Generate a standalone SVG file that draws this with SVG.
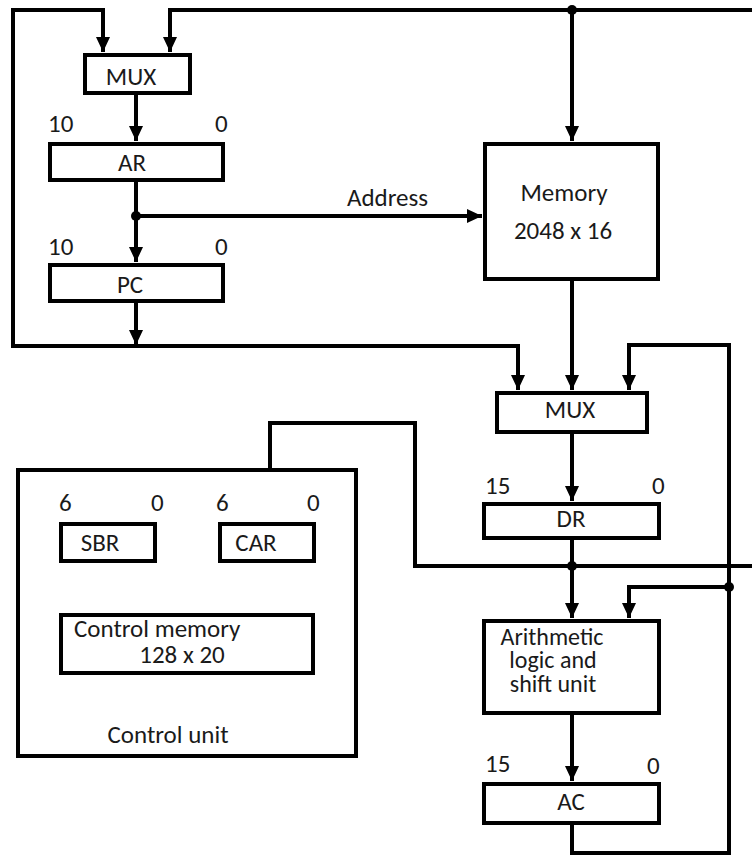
<svg xmlns="http://www.w3.org/2000/svg" width="752" height="856" viewBox="0 0 752 856">
  <style>
    .box { fill: #ffffff; stroke: #000000; stroke-width: 4; }
    .wire { fill: none; stroke: #000000; stroke-width: 4; stroke-linejoin: miter; }
    .arrow { marker-end: url(#head); }
    .dot { fill: #000000; }
    text { font-family: Carlito, Calibri, "Open Sans", "Noto Sans", sans-serif; font-size: 25px; fill: #1a1a1a; }
    .c { text-anchor: middle; }
    .alu { font-size: 24px; }
  </style>
  <defs>
    <marker id="head" markerUnits="userSpaceOnUse" markerWidth="16" markerHeight="16" viewBox="0 0 16 16" refX="15" refY="8" orient="auto">
      <path d="M0,1 L15,8 L0,15 z" fill="#000000"/>
    </marker>
  </defs>

  <rect x="0" y="0" width="752" height="856" fill="#ffffff"/>

  <!-- connectors -->
  <g id="connectors">
    <!-- common bus along the top feeding the address MUX and memory -->
    <path class="wire arrow" d="M752,10 H170 V52"/>
    <path class="wire arrow" d="M572,10 V141"/>
    <!-- PC output loop -->
    <path class="wire arrow" d="M136,303 V345"/>
    <path class="wire arrow" d="M13,346 V10 H103 V52"/>
    <path class="wire arrow" d="M11,346 H518 V390"/>
    <!-- MUX to AR, AR to PC, address to memory -->
    <path class="wire arrow" d="M136,95 V141"/>
    <path class="wire arrow" d="M136,182 V262"/>
    <path class="wire arrow" d="M136,216 H482"/>
    <!-- memory to data MUX, MUX to DR, DR to ALU -->
    <path class="wire arrow" d="M572,281 V390"/>
    <path class="wire arrow" d="M572,434 V501"/>
    <path class="wire arrow" d="M572,540 V618"/>
    <!-- DR bus to CAR -->
    <path class="wire arrow" d="M752,566 H415 V423 H270 V521"/>
    <!-- ALU to AC, AC feedback -->
    <path class="wire arrow" d="M572,715 V781"/>
    <path class="wire arrow" d="M572,825 V853 H729 V345 H629 V390"/>
    <path class="wire arrow" d="M729,587 H629 V618"/>
    <circle class="dot" cx="572" cy="10" r="5"/>
    <circle class="dot" cx="136" cy="216" r="5"/>
    <circle class="dot" cx="572" cy="566" r="5"/>
    <circle class="dot" cx="729" cy="587" r="5"/>
  </g>

  <g id="mux-addr">
    <rect class="box" x="85" y="55" width="105" height="38"/>
    <text class="c" x="131" y="85">MUX</text>
  </g>

  <g id="ar">
    <text x="48" y="132">10</text>
    <text x="215" y="132">0</text>
    <rect class="box" x="50" y="144" width="173" height="36"/>
    <text class="c" x="132" y="171">AR</text>
  </g>

  <g id="pc">
    <text x="48" y="255">10</text>
    <text x="215" y="255">0</text>
    <rect class="box" x="50" y="265" width="173" height="36"/>
    <text class="c" x="130" y="293">PC</text>
  </g>

  <g id="address-label">
    <text x="347" y="206">Address</text>
  </g>

  <g id="memory">
    <rect class="box" x="485" y="144" width="173" height="135"/>
    <text class="c" x="564" y="201">Memory</text>
    <text class="c" x="563" y="239">2048 x 16</text>
  </g>

  <g id="mux-data">
    <rect class="box" x="497" y="393" width="150" height="39"/>
    <text class="c" x="570" y="418">MUX</text>
  </g>

  <g id="dr">
    <text x="485" y="494">15</text>
    <text x="652" y="494">0</text>
    <rect class="box" x="484" y="504" width="175" height="34"/>
    <text class="c" x="571" y="527">DR</text>
  </g>

  <g id="alu">
    <rect class="box" x="484" y="621" width="175" height="92"/>
    <text class="c alu" x="552" y="645">Arithmetic</text>
    <text class="c alu" x="553" y="668">logic and</text>
    <text class="c alu" x="553" y="692">shift unit</text>
  </g>

  <g id="ac">
    <text x="485" y="772">15</text>
    <text x="647" y="774">0</text>
    <rect class="box" x="484" y="784" width="175" height="39"/>
    <text class="c" x="571" y="810">AC</text>
  </g>

  <g id="control-unit">
    <rect class="box" x="18" y="470" width="338" height="286"/>
    <text class="c" x="168" y="743">Control unit</text>
  </g>

  <g id="sbr">
    <text x="59" y="511">6</text>
    <text x="151" y="511">0</text>
    <rect class="box" x="61" y="524" width="94" height="37"/>
    <text class="c" x="100" y="551">SBR</text>
  </g>

  <g id="car">
    <text x="216" y="511">6</text>
    <text x="307" y="511">0</text>
    <rect class="box" x="220" y="524" width="94" height="37"/>
    <text class="c" x="256" y="551">CAR</text>
  </g>

  <g id="control-memory">
    <rect class="box" x="61" y="615" width="252" height="58"/>
    <text x="74" y="637">Control memory</text>
    <text class="c" x="182" y="663">128 x 20</text>
  </g>
</svg>
